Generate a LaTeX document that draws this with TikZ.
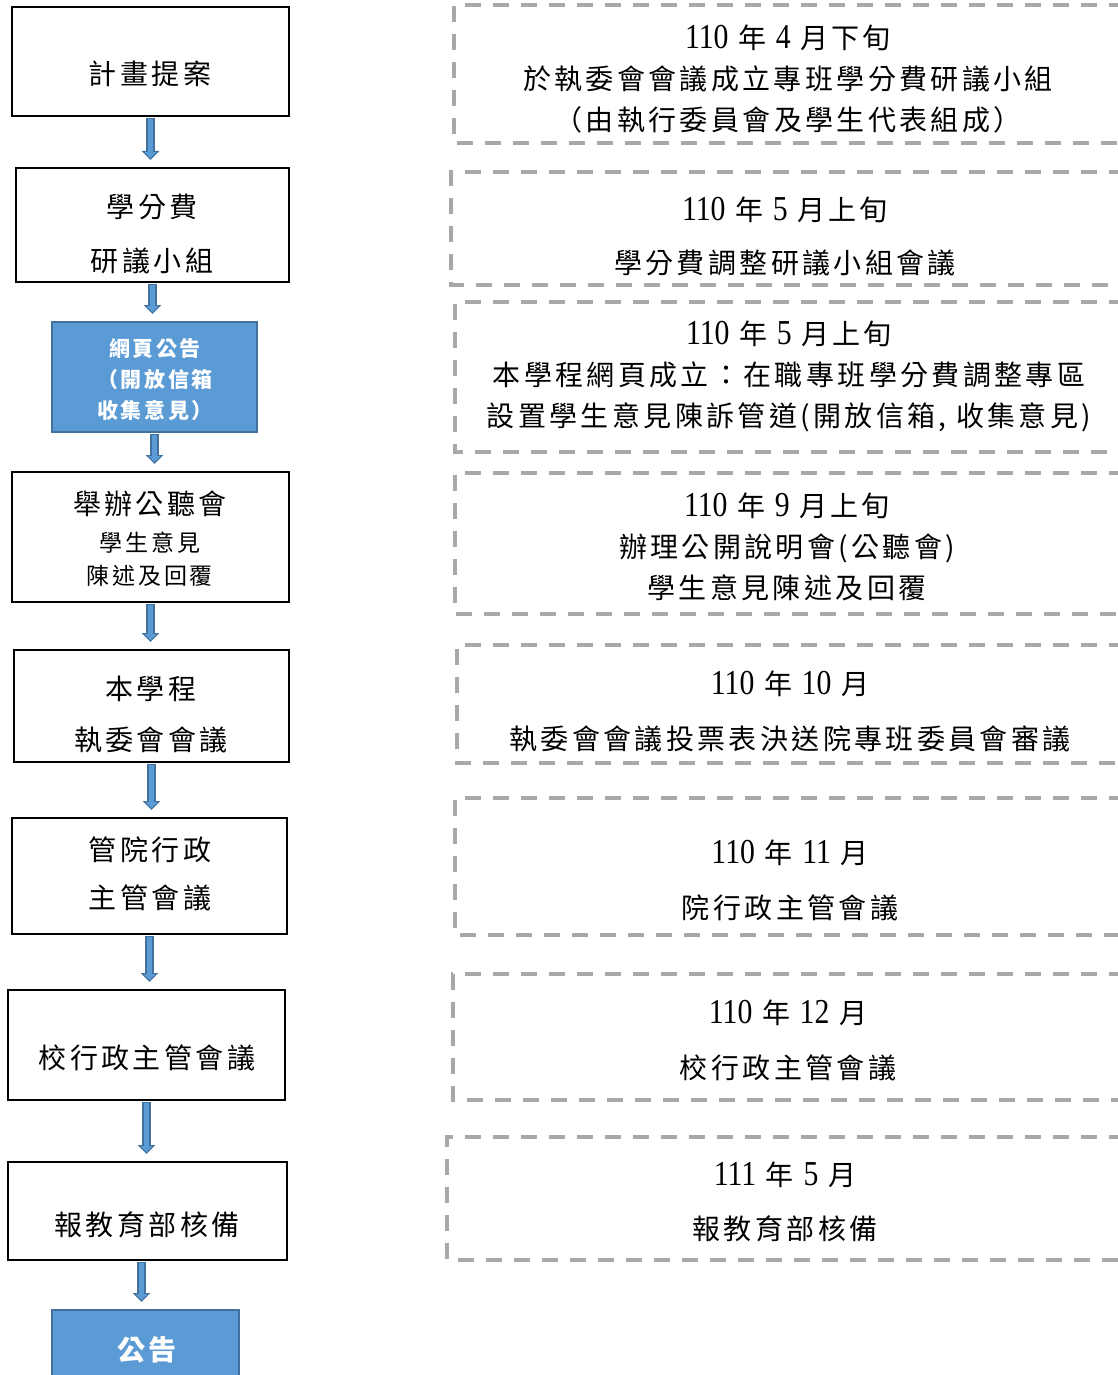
\documentclass[tikz,border=0pt]{standalone}
\usepackage{fontspec}
\newfontfamily\cjk[LetterSpace=12]{Noto Sans CJK TC}
\newfontfamily\num[Scale=1.25,FakeStretch=0.85]{Liberation Serif}
\newcommand\nb[1]{{\num #1}}
\usetikzlibrary{arrows.meta}
\definecolor{boxblue}{RGB}{91,155,213}
\definecolor{edgeblue}{RGB}{65,113,156}
\definecolor{dashgray}{RGB}{168,168,168}
\tikzset{
    stepbox/.style={draw=black, line width=2pt, fill=white, inner sep=0pt},
    bluebox/.style={draw=edgeblue, line width=2pt, fill=boxblue, inner sep=0pt},
    datebox/.style={draw=dashgray, line width=3.5pt, dash pattern=on 16pt off 12pt},
    txt/.style={font=\cjk\fontsize{28}{41}\selectfont, align=center, inner sep=0pt},
    flow/.style={draw=edgeblue, line width=8.5pt, -{Triangle[width=17pt,length=9pt]},
      shorten <=1pt, shorten >=7pt,
      postaction={draw=boxblue, line width=5pt, -{Triangle[width=12pt,length=6pt]},
      shorten <=2pt, shorten >=9pt}},
  }
\begin{document}
\begin{tikzpicture}[x=1pt,y=-1pt]
	\useasboundingbox (0,0) rectangle (1117,1375);
	
	%ETAPES
	\node[stepbox, minimum width=277pt, minimum height=109pt] (S1) at (150.5,61.5) {};
	\node[stepbox, minimum width=273pt, minimum height=114pt] (S2) at (152.5,225) {};
	\node[bluebox, minimum width=205pt, minimum height=110pt] (S3) at (154.5,377) {};
	\node[stepbox, minimum width=277pt, minimum height=130pt] (S4) at (150.5,537) {};
	\node[stepbox, minimum width=275pt, minimum height=112pt] (S5) at (151.5,706) {};
	\node[stepbox, minimum width=275pt, minimum height=116pt] (S6) at (149.5,876) {};
	\node[stepbox, minimum width=277pt, minimum height=110pt] (S7) at (146.5,1045) {};
	\node[stepbox, minimum width=279pt, minimum height=98pt] (S8) at (147.5,1211) {};
	\node[bluebox, minimum width=187pt, minimum height=80pt] (S9) at (145.5,1350) {};
	
	\node[txt] at (150,74) {計畫提案};
	\node[txt, font=\cjk\fontsize{28}{54}\selectfont] at (152,234) {學分費\\研議小組};
	\node[txt, text=white, font=\cjk\bfseries\fontsize{21}{31}\selectfont] at (155,380) {網頁公告\\（開放信箱\\收集意見）};
	\node[txt] at (150,504) {舉辦公聽會};
	\node[txt, font=\cjk\fontsize{23}{33}\selectfont] at (150,559.5) {學生意見\\陳述及回覆};
	\node[txt, font=\cjk\fontsize{28}{51}\selectfont] at (151,714.5) {本學程\\執委會會議};
	\node[txt, font=\cjk\fontsize{28}{48}\selectfont] at (150,874) {管院行政\\主管會議};
	\node[txt] at (147,1058) {校行政主管會議};
	\node[txt] at (147,1225) {報教育部核備};
	\node[txt, text=white, font=\cjk\bfseries\fontsize{28}{41}\selectfont] at (147,1350) {公告};
	
	%FLECHES
	\foreach \a/\b in {S1/S2,S2/S3,S3/S4,S4/S5,S5/S6,S6/S7,S7/S8}
	  \draw[flow] (\a.south) -- (\a.south |- \b.north);
	\draw[flow] ([xshift=-6pt]S8.south) -- ([xshift=-6pt]S8.south |- S9.north);
	
	%DATES
	\draw[datebox] (1125,5) -- (454,5) -- (454,143) -- (1125,143);
	\draw[datebox] (1125,172) -- (451,172) -- (451,285) -- (1125,285);
	\draw[datebox] (1125,302) -- (455,302) -- (455,452) -- (1125,452);
	\draw[datebox] (1125,473) -- (455,473) -- (455,614) -- (1125,614);
	\draw[datebox] (1125,645) -- (457,645) -- (457,763) -- (1125,763);
	\draw[datebox] (1125,798) -- (455,798) -- (455,935) -- (1125,935);
	\draw[datebox] (1125,974) -- (453,974) -- (453,1100) -- (1125,1100);
	\draw[datebox] (1125,1137) -- (447,1137) -- (447,1260) -- (1125,1260);
	
	\node[txt] at (788,79) {\nb{110} 年 \nb{4} 月下旬\\於執委會會議成立專班學分費研議小組\\（由執行委員會及學生代表組成）};
	\node[txt, font=\cjk\fontsize{28}{53}\selectfont] at (785,236.5) {\nb{110} 年 \nb{5} 月上旬\\學分費調整研議小組會議};
	\node[txt] at (789,376.5) {\nb{110} 年 \nb{5} 月上旬\\本學程網頁成立：在職專班學分費調整專區\\設置學生意見陳訴管道(開放信箱, 收集意見)};
	\node[txt] at (787,546.5) {\nb{110} 年 \nb{9} 月上旬\\辦理公開說明會(公聽會)\\學生意見陳述及回覆};
	\node[txt, font=\cjk\fontsize{28}{55}\selectfont] at (790,711.5) {\nb{110} 年 \nb{10} 月\\執委會會議投票表決送院專班委員會審議};
	\node[txt, font=\cjk\fontsize{28}{55}\selectfont] at (790,880.5) {\nb{110} 年 \nb{11} 月\\院行政主管會議};
	\node[txt, font=\cjk\fontsize{28}{55}\selectfont] at (788,1040.5) {\nb{110} 年 \nb{12} 月\\校行政主管會議};
	\node[txt, font=\cjk\fontsize{28}{54}\selectfont] at (785,1202) {\nb{111} 年 \nb{5} 月\\報教育部核備};
\end{tikzpicture}
\end{document}
